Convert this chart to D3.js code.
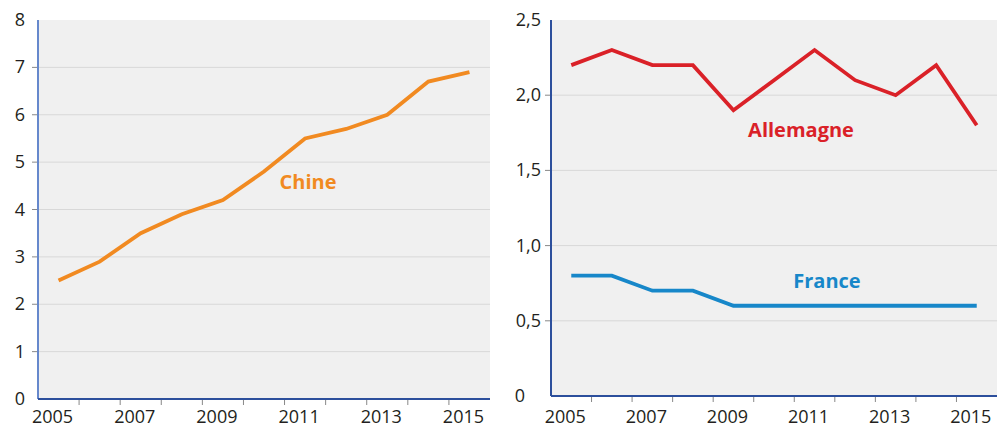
<!DOCTYPE html>
<html>
<head>
<meta charset="utf-8">
<script src="https://cdn.jsdelivr.net/npm/d3@7"></script>
<style>
  body { margin: 0; background: #fff; }
  svg { display: block; font-family: "Open Sans", sans-serif; }
</style>
</head>
<body>
<div id="chart"></div>
<script>
// years on the x axis
const years = [2005, 2006, 2007, 2008, 2009, 2010, 2011, 2012, 2013, 2014, 2015];
const yearLabels = [2005, 2007, 2009, 2011, 2013, 2015];

// series values
const chine = [2.5, 2.9, 3.5, 3.9, 4.2, 4.8, 5.5, 5.7, 6.0, 6.7, 6.9];
const allemagne = [2.2, 2.3, 2.2, 2.2, 1.9, 2.1, 2.3, 2.1, 2.0, 2.2, 1.8];
const france = [0.8, 0.8, 0.7, 0.7, 0.6, 0.6, 0.6, 0.6, 0.6, 0.6, 0.6];

// y tick values
const leftTicks = [0, 1, 2, 3, 4, 5, 6, 7, 8];
const rightTicks = [0, 0.5, 1, 1.5, 2, 2.5];

const svg = d3.select('#chart')
  .append('svg')
  .attr('width', 1002)
  .attr('height', 427);

function buildPanel({ x0, x1, top, bottom, yMax, ticks, fmt, series, labelEnd, leftAxisColor }) {
  const g = svg.append('g');

  const x = d3.scaleBand().domain(years).range([x0, x1]);
  const y = d3.scaleLinear().domain([0, yMax]).range([bottom, top]);

  // plot background
  g.append('rect')
    .attr('x', x0).attr('y', top)
    .attr('width', x1 - x0).attr('height', bottom - top)
    .attr('fill', '#f0f0f0');

  // horizontal grid lines
  const inner = ticks.filter((t) => t > 0 && t < yMax);
  g.selectAll('.grid')
    .data(inner)
    .enter()
    .append('line')
    .attr('x1', x0).attr('x2', x1)
    .attr('y1', (d) => y(d)).attr('y2', (d) => y(d))
    .attr('stroke', '#d8d8d8')
    .attr('stroke-width', 1);

  // y tick marks
  g.selectAll('.ytick')
    .data(inner)
    .enter()
    .append('line')
    .attr('x1', x0 - 6).attr('x2', x0)
    .attr('y1', (d) => y(d)).attr('y2', (d) => y(d))
    .attr('stroke', '#888')
    .attr('stroke-width', 1);

  // y labels (0 is aligned on the units digit)
  g.selectAll('.ylab')
    .data(ticks)
    .enter()
    .append('text')
    .attr('x', (d) => (d === 0 && fmt(1).length > 1 ? labelEnd - 16 : labelEnd))
    .attr('y', (d) => y(d) + 6)
    .attr('text-anchor', 'end')
    .attr('font-size', 18)
    .attr('fill', '#231f20')
    .text(fmt);

  // x tick marks at band boundaries
  g.selectAll('.xtick')
    .data(years.slice(1))
    .enter()
    .append('line')
    .attr('x1', (d) => x(d)).attr('x2', (d) => x(d))
    .attr('y1', bottom).attr('y2', bottom + 6)
    .attr('stroke', '#888')
    .attr('stroke-width', 1);

  // x labels
  g.selectAll('.xlab')
    .data(yearLabels)
    .enter()
    .append('text')
    .attr('x', (d) => x(d) + x.bandwidth() / 2 - 6)
    .attr('y', 423)
    .attr('text-anchor', 'middle')
    .attr('font-size', 18)
    .attr('fill', '#231f20')
    .text((d) => d);

  // axis lines
  g.append('line')
    .attr('x1', x0).attr('x2', x0)
    .attr('y1', top).attr('y2', bottom)
    .attr('stroke', leftAxisColor).attr('stroke-width', 2);
  g.append('line')
    .attr('x1', x0).attr('x2', x1)
    .attr('y1', bottom).attr('y2', bottom)
    .attr('stroke', '#2c4f9c').attr('stroke-width', 2);

  // series lines
  const line = d3.line()
    .x((d, i) => x(years[i]) + x.bandwidth() / 2)
    .y((d) => y(d));

  series.forEach((s) => {
    g.append('path')
      .datum(s.values)
      .attr('d', line)
      .attr('fill', 'none')
      .attr('stroke', s.color)
      .attr('stroke-width', 3.8)
      .attr('stroke-linejoin', 'miter');

    g.append('text')
      .attr('x', s.labelX)
      .attr('y', s.labelY)
      .attr('text-anchor', 'middle')
      .attr('font-size', 20)
      .attr('font-weight', 'bold')
      .attr('fill', s.color)
      .text(s.name);
  });
}

buildPanel({
  x0: 38, x1: 490, top: 20, bottom: 399, yMax: 8,
  ticks: leftTicks,
  fmt: (d) => d3.format('d')(d),
  labelEnd: 25,
  leftAxisColor: '#6688cc',
  series: [
    { name: 'Chine', values: chine, color: '#f18a21', labelX: 308, labelY: 189 },
  ],
});

buildPanel({
  x0: 551, x1: 997, top: 20, bottom: 396, yMax: 2.5,
  ticks: rightTicks,
  fmt: (d) => (d === 0 ? '0' : d3.format('.1f')(d).replace('.', ',')),
  labelEnd: 541,
  leftAxisColor: '#2c4f9c',
  series: [
    { name: 'Allemagne', values: allemagne, color: '#da2128', labelX: 801, labelY: 137 },
    { name: 'France', values: france, color: '#1787c9', labelX: 827, labelY: 288 },
  ],
});
</script>
</body>
</html>
